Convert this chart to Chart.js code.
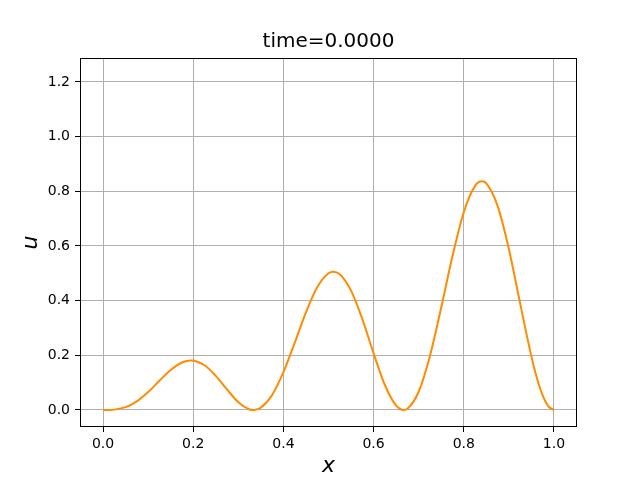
<!DOCTYPE html>
<html>
<head>
<meta charset="utf-8">
<script src="https://cdn.jsdelivr.net/npm/chart.js@4"></script>
<style>
  html, body { margin: 0; padding: 0; background: #fff; }
  #grafico { display: block; }
</style>
</head>
<body>
<canvas id="grafico" width="640" height="480"></canvas>
<script>
// Valores (x, u)
const xValues = [0, 0.0125, 0.025, 0.05, 0.075, 0.1, 0.125, 0.15, 0.175, 0.195, 0.225, 0.25, 0.275, 0.3, 0.325, 0.3333, 0.3375, 0.35, 0.375,
  0.4, 0.425, 0.45, 0.475, 0.5, 0.51, 0.525, 0.55, 0.575, 0.6, 0.625, 0.65, 0.6625, 0.6667, 0.675, 0.7, 0.725, 0.75,
  0.775, 0.8, 0.825, 0.84, 0.85, 0.875, 0.9, 0.925, 0.95, 0.9625, 0.975, 0.9875, 1];
const uValues = [0, 0.0002, 0.0014, 0.0103, 0.0316, 0.0655, 0.1067, 0.1463, 0.1739, 0.1814, 0.1636, 0.125, 0.0751, 0.0287, 0.002, 0, 0.0005, 0.0086, 0.0549,
  0.1382, 0.2457, 0.3572, 0.4491, 0.5, 0.5055, 0.4964, 0.4366, 0.3325, 0.2073, 0.0915, 0.0159, 0.001, 0, 0.0042, 0.0668, 0.1979, 0.375,
  0.5634, 0.7236, 0.8199, 0.8367, 0.8292, 0.7469, 0.5891, 0.3902, 0.1958, 0.1153, 0.0531, 0.0136, 0];

// Marcas de los ejes
const xTicks = [0, 0.2, 0.4, 0.6, 0.8, 1.0];
const yTicks = [0, 0.2, 0.4, 0.6, 0.8, 1.0, 1.2];

const fuente = "'DejaVu Sans', sans-serif";

// Marco negro alrededor del área del gráfico
const marco = {
  id: 'marco',
  afterDraw(chart) {
    const a = chart.chartArea;
    const ctx = chart.ctx;
    ctx.save();
    ctx.strokeStyle = '#000';
    ctx.lineWidth = 1;
    ctx.strokeRect(Math.round(a.left) + 0.5, Math.round(a.top) + 0.5,
      Math.round(a.right - a.left) - 1, Math.round(a.bottom - a.top) - 1);
    ctx.restore();
  }
};

new Chart(document.getElementById('grafico'), {
  type: 'line',
  data: {
    datasets: [{
      data: xValues.map((x, i) => ({ x: x, y: uValues[i] })),
      borderColor: '#ff8c00',
      borderWidth: 2,
      pointRadius: 0,
      fill: false,
      cubicInterpolationMode: 'monotone'
    }]
  },
  options: {
    responsive: false,
    animation: false,
    layout: { padding: { left: 0, right: 63, top: 0, bottom: 0 } },
    plugins: { legend: { display: false }, tooltip: { enabled: false } },
    scales: {
      x: {
        type: 'linear',
        min: -0.0511,
        max: 1.0511,
        afterBuildTicks: s => { s.ticks = xTicks.map(v => ({ value: v })); },
        afterFit: s => { s.height = 53; },
        grid: { color: '#b0b0b0', lineWidth: 1, tickLength: 5, tickColor: '#000' },
        border: { display: false },
        ticks: {
          color: '#000',
          font: { family: fuente, size: 14 },
          padding: 4,
          maxRotation: 0,
          callback: v => v.toFixed(1)
        },
        title: {
          display: true,
          text: 'x',
          color: '#000',
          font: { family: fuente, size: 22, style: 'italic' },
          padding: { top: 0, bottom: 1 }
        }
      },
      x2: {
        type: 'linear',
        position: 'top',
        min: 0,
        max: 1,
        afterFit: s => { s.height = 58; },
        grid: { display: false },
        border: { display: false },
        ticks: { display: false },
        title: {
          display: true,
          text: 'time=0.0000',
          color: '#000',
          font: { family: fuente, size: 20 },
          padding: { top: 29.5, bottom: 0 }
        }
      },
      y: {
        type: 'linear',
        min: -0.0622,
        max: 1.2878,
        afterBuildTicks: s => { s.ticks = yTicks.map(v => ({ value: v })); },
        afterFit: s => { s.width = 80; },
        grid: { color: '#b0b0b0', lineWidth: 1, tickLength: 5, tickColor: '#000' },
        border: { display: false },
        ticks: {
          color: '#000',
          font: { family: fuente, size: 14 },
          padding: 5,
          callback: v => v.toFixed(1)
        },
        title: {
          display: true,
          text: 'u',
          color: '#000',
          font: { family: fuente, size: 22, style: 'italic' },
          padding: { top: 18, bottom: 0 }
        }
      }
    }
  },
  plugins: [marco]
});
</script>
</body>
</html>
